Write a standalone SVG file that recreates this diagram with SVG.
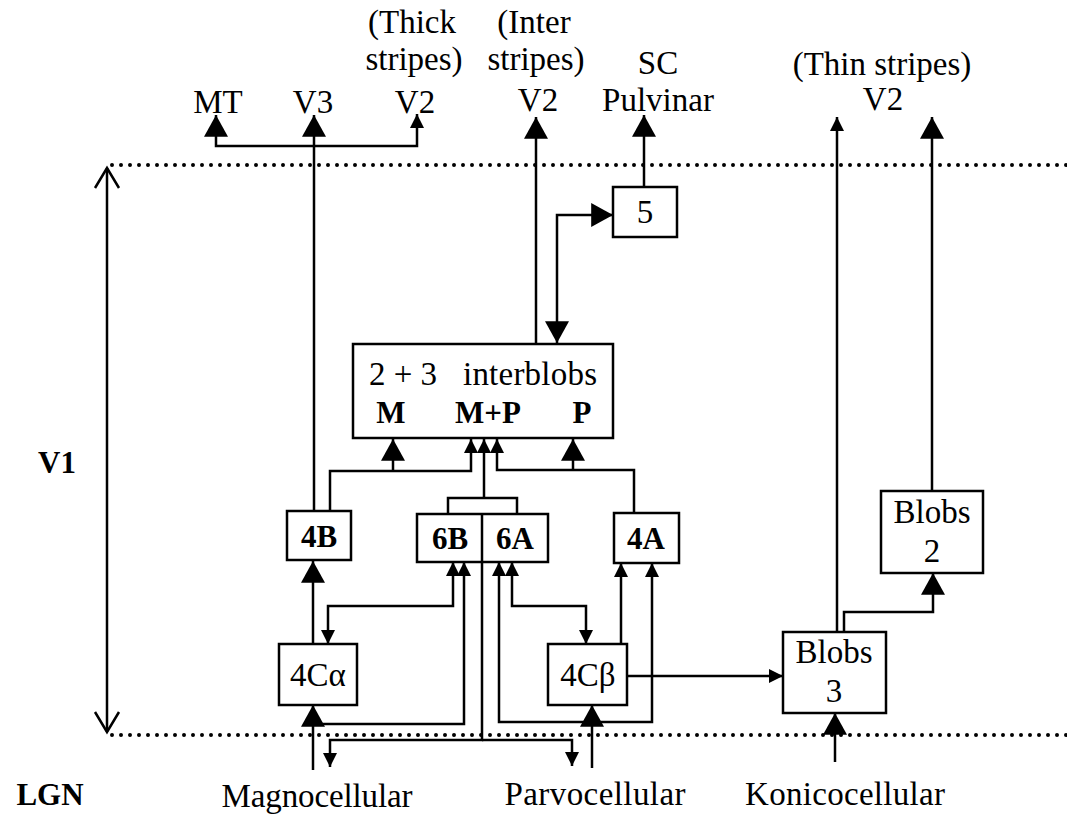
<svg xmlns="http://www.w3.org/2000/svg" width="1067" height="814" viewBox="0 0 1067 814">
<style>
text{font-family:"Liberation Serif","Times New Roman",serif;font-size:33px;fill:#000;text-anchor:middle}
.b{font-weight:bold;font-size:31px}
.box{fill:#fff;stroke:#000;stroke-width:2.5}
.ln{fill:none;stroke:#000;stroke-width:2.5}
.big{marker-end:url(#big)}
.sm{marker-end:url(#sm)}
.dot{fill:none;stroke:#000;stroke-width:4;stroke-linecap:round;stroke-dasharray:0 9}
</style>
<defs>
<marker id="big" markerUnits="userSpaceOnUse" markerWidth="24" markerHeight="24" viewBox="0 0 20 22" refX="20" refY="11" orient="auto-start-reverse"><path d="M0,0 L20,11 L0,22 Z" fill="#000"/></marker>
<marker id="sm" markerUnits="userSpaceOnUse" markerWidth="14" markerHeight="14" viewBox="0 0 13 13" refX="13" refY="6.5" orient="auto-start-reverse"><path d="M0,0 L13,6.5 L0,13 Z" fill="#000"/></marker>
<marker id="open" markerUnits="userSpaceOnUse" markerWidth="30" markerHeight="30" viewBox="0 0 22 30" refX="21" refY="15" orient="auto-start-reverse"><path d="M1,3 L21,15 L1,27" fill="none" stroke="#000" stroke-width="2.5"/></marker>
</defs>

<g id="layers">
<path class="dot" d="M112,165 H1067"/>
<path class="dot" d="M112,735 H1067"/>
<path class="ln" d="M107,168 V732" marker-start="url(#open)" marker-end="url(#open)"/>
<text class="b" x="57" y="473">V1</text>
<text class="b" x="50" y="805">LGN</text>
</g>

<g id="targets">
<text x="412" y="33">(Thick</text>
<text x="414" y="70">stripes)</text>
<text x="218" y="113">MT</text>
<text x="313" y="113">V3</text>
<text x="415" y="113">V2</text>
<text x="534" y="33">(Inter</text>
<text x="536" y="70">stripes)</text>
<text x="538" y="111">V2</text>
<text x="658" y="74">SC</text>
<text x="658" y="111">Pulvinar</text>
<text x="882" y="75">(Thin stripes)</text>
<text x="883" y="110">V2</text>
</g>

<g id="inputs">
<text x="317" y="807" textLength="191" lengthAdjust="spacing">Magnocellular</text>
<text x="595" y="805" textLength="181" lengthAdjust="spacing">Parvocellular</text>
<text x="845" y="805" textLength="200" lengthAdjust="spacing">Konicocellular</text>
</g>

<g id="connectors">
<path class="ln big" d="M315,146 H216 V115"/>
<path class="ln sm" d="M315,146 H417 V114"/>
<path class="ln big" d="M314,511 V115"/>
<path class="ln big" d="M536,344 V117"/>
<path class="ln big" d="M557,343 V215 H613" marker-start="url(#big)"/>
<path class="ln big" d="M644,187 V115"/>
<path class="ln sm" d="M330,511 V471 H471 V439"/>
<path class="ln big" d="M393,471 V439"/>
<path class="ln" d="M448,514 V498 H517 V514"/>
<path class="ln sm" d="M484,498 V439"/>
<path class="ln sm" d="M634,513 V470 H497 V439"/>
<path class="ln big" d="M573,470 V439"/>
<path class="ln big" d="M313,644 V561"/>
<path class="ln sm" d="M453,562 V606 H328 V644" marker-start="url(#sm)"/>
<path class="ln big" d="M313,770 V705"/>
<path class="ln sm" d="M313,724 H464 V562"/>
<path class="ln sm" d="M512,562 V606 H586 V644" marker-start="url(#sm)"/>
<path class="ln big" d="M592,768 V705"/>
<path class="ln sm" d="M592,722 H499 V562"/>
<path class="ln sm" d="M592,722 H652 V563"/>
<path class="ln sm" d="M621,644 V563"/>
<path class="ln sm" d="M627,676 H783"/>
<path class="ln sm" d="M482,562 V740 H330 V767"/>
<path class="ln sm" d="M482,740 H572 V766"/>
<path class="ln big" d="M835,762 V713"/>
<path class="ln sm" d="M837,632 V117"/>
<path class="ln big" d="M844,632 V612 H933 V573"/>
<path class="ln big" d="M932,491 V117"/>
</g>

<g id="n5"><rect class="box" x="613" y="187" width="64" height="50"/><text x="645" y="223">5</text></g>
<g id="interblobs"><rect class="box" x="353" y="344" width="260" height="94"/>
<text x="403" y="385">2 + 3</text><text x="530" y="385" textLength="134" lengthAdjust="spacing">interblobs</text>
<text class="b" x="391" y="423">M</text><text class="b" x="488" y="423">M+P</text><text class="b" x="582" y="423">P</text></g>
<g id="n4B"><rect class="box" x="287" y="511" width="64" height="49"/><text class="b" x="319" y="547">4B</text></g>
<g id="n6B6A"><rect class="box" x="417" y="514" width="131" height="48"/><line class="ln" x1="482" y1="514" x2="482" y2="562"/><text class="b" x="450" y="549">6B</text><text class="b" x="515" y="549">6A</text></g>
<g id="n4A"><rect class="box" x="614" y="513" width="65" height="50"/><text class="b" x="646" y="549">4A</text></g>
<g id="n4Ca"><rect class="box" x="279" y="644" width="78" height="61"/><text x="318" y="686">4Cα</text></g>
<g id="n4Cb"><rect class="box" x="548" y="644" width="79" height="61"/><text x="588" y="686">4Cβ</text></g>
<g id="blobs3"><rect class="box" x="783" y="632" width="103" height="81"/><text x="834" y="663">Blobs</text><text x="834" y="702">3</text></g>
<g id="blobs2"><rect class="box" x="881" y="491" width="102" height="82"/><text x="932" y="523">Blobs</text><text x="932" y="562">2</text></g>
</svg>
